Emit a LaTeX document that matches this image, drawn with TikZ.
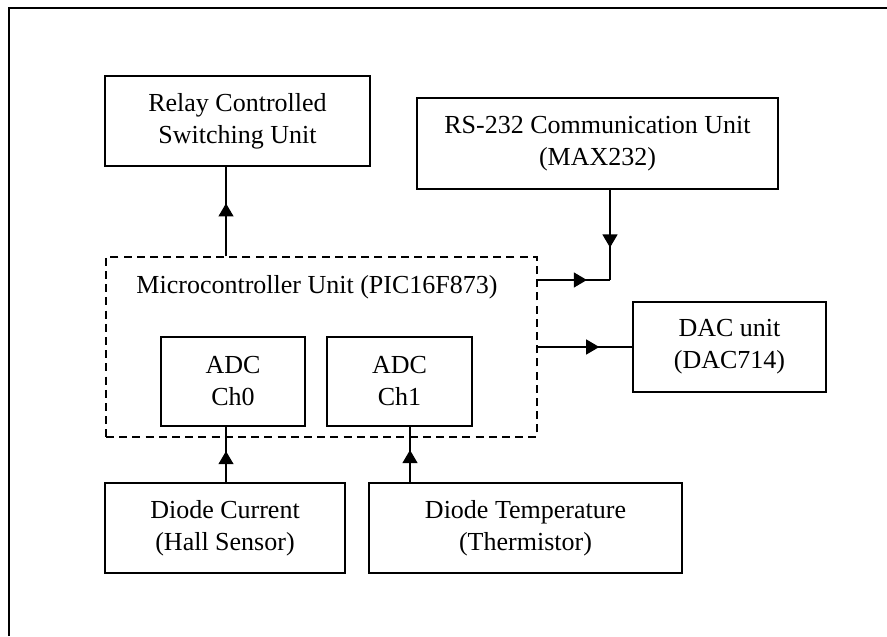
\documentclass[tikz,border=0pt]{standalone}
\usepackage{fontspec}
\setmainfont{Liberation Serif}
\usetikzlibrary{
	arrows.meta,									% arrow tips
	calc,											% coordinate calculations
	decorations.markings,							% mid-path arrow heads
}
\tikzset{
	unitbox/.style={draw, line width=0.65pt, align=center, inner sep=0pt,
		font=\fontsize{13}{16}\selectfont},
	mcubox/.style={draw, dashed, dash pattern=on 4pt off 2.6pt, line width=0.7pt, inner sep=0pt},
	flow/.style={line width=0.55pt, postaction={decorate},
		decoration={markings, mark=at position #1 with {\arrow{Triangle[length=6.5pt,width=7.5pt]}}}},
}
\begin{document}
\begin{tikzpicture}[x=0.5pt, y=-0.5pt]
		\useasboundingbox (0,0) rectangle (887,636);
		% outer frame, open to the right and bottom
		\draw [line width=0.6pt] (9,636) -- (9,8) -- (887,8);
		% units
		\node [unitbox, minimum width=132.5pt, minimum height=45pt] (relay) at (237.5,121) {Relay Controlled\\Switching Unit};
		\node [unitbox, minimum width=180.5pt, minimum height=45.5pt] (rs) at (597.5,143.5) {RS-232 Communication Unit\\(MAX232)};
		\node [mcubox, minimum width=215.5pt, minimum height=90pt] (mcu) at (321.5,347) {};
		\node [font=\fontsize{13}{16}\selectfont, anchor=base] (mcutitle) at (317,293) {Microcontroller Unit (PIC16F873)};
		\node [unitbox, minimum width=72pt, minimum height=44.5pt] (adc0) at (233,381.5) {ADC\\Ch0};
		\node [unitbox, minimum width=72.5pt, minimum height=44.5pt] (adc1) at (399.5,381.5) {ADC\\Ch1};
		\node [unitbox, minimum width=96.5pt, minimum height=45pt] (dac) at (729.5,347) {DAC unit\\(DAC714)};
		\node [unitbox, minimum width=120pt, minimum height=45pt] (cur) at (225,528) {Diode Current\\(Hall Sensor)};
		\node [unitbox, minimum width=156.5pt, minimum height=45pt] (temp) at (525.5,528) {Diode Temperature\\(Thermistor)};
		% connectors
		\coordinate (rsj) at (610,280);
		\draw [flow=0.59] ([xshift=0.5pt]mcu.north -| cur) -- ([xshift=0.5pt]relay.south -| cur);
		\draw [flow=0.64] (rs.south -| rsj) -- (rsj);
		\draw [flow=0.68] (mcu.east |- rsj) -- (rsj);
		\draw [flow=0.65] (mcu.east) -- (dac.west);
		\draw [flow=0.56] ([xshift=0.5pt]cur.north) -- ([xshift=0.5pt]adc0.south -| cur);
		\draw [flow=0.58] ([xshift=5.25pt]adc1.south |- temp.north) -- ([xshift=5.25pt]adc1.south);
	\end{tikzpicture}
\end{document}
